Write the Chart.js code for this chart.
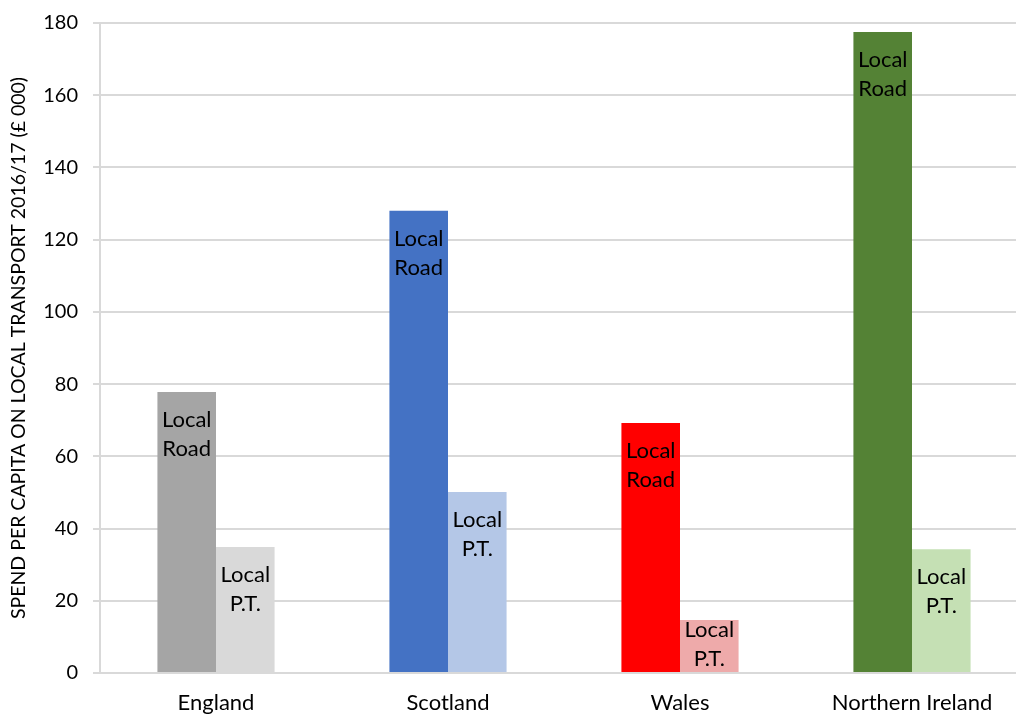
<!DOCTYPE html>
<html>
<head>
<meta charset="utf-8">
<script src="https://cdn.jsdelivr.net/npm/chart.js@4/dist/chart.umd.min.js"></script>
<style>
  html, body { margin: 0; padding: 0; background: #fff; overflow: hidden; }
  #wrap { position: relative; width: 1030px; height: 716px; }
</style>
</head>
<body>
<div id="wrap"><canvas id="c"></canvas></div>
<script>
// Per-capita spend on local transport, 2016/17 (£ 000)
const regions = ['England', 'Scotland', 'Wales', 'Northern Ireland'];
const localRoad = [77.8, 128.0, 69.2, 177.5];
const localPT = [34.9, 50.1, 14.7, 34.3];
const roadColors = ['#a5a5a5', '#4472c4', '#ff0000', '#548235'];
const ptColors = ['#d9d9d9', '#b4c7e7', '#eeaaaa', '#c5e0b4'];
const roadLabel = ['Local', 'Road'];
const ptLabel = ['Local', 'P.T.'];
const yTitle = 'SPEND PER CAPITA ON LOCAL TRANSPORT 2016/17 (£ 000)';

const FONT = 'Lato, "Open Sans", sans-serif';

// Two-line caption written inside the top of each bar; on short bars
// the caption is pushed up so it still sits within the bar.
const barCaptions = {
  id: 'barCaptions',
  afterDatasetsDraw(chart) {
    const ctx = chart.ctx;
    const lineGap = 29;
    ctx.save();
    ctx.font = '22px ' + FONT;
    ctx.fillStyle = '#000';
    ctx.textAlign = 'center';
    ctx.textBaseline = 'middle';
    chart.data.datasets.forEach((ds, di) => {
      const meta = chart.getDatasetMeta(di);
      meta.data.forEach(bar => {
        const n = ds.caption.length;
        const first = Math.min(bar.y + 28, bar.base - 13 - (n - 1) * lineGap);
        ds.caption.forEach((line, li) => {
          ctx.fillText(line, bar.x, first + li * lineGap);
        });
      });
    });
    ctx.restore();
  }
};

new Chart(document.getElementById('c'), {
  type: 'bar',
  data: {
    labels: regions,
    datasets: [
      { label: 'Local Road', data: localRoad, backgroundColor: roadColors, caption: roadLabel },
      { label: 'Local P.T.', data: localPT, backgroundColor: ptColors, caption: ptLabel }
    ]
  },
  options: {
    responsive: true,
    maintainAspectRatio: false,
    animation: false,
    layout: { padding: { left: 0, right: 2, top: 23, bottom: 0 } },
    datasets: { bar: { categoryPercentage: 0.505, barPercentage: 1.0 } },
    plugins: { legend: { display: false }, tooltip: { enabled: false } },
    scales: {
      x: {
        grid: { display: false, drawTicks: false },
        border: { display: true, color: '#d9d9d9', width: 2 },
        ticks: { color: '#000', font: { family: FONT, size: 22 }, padding: 17 },
        afterFit(scale) { scale.height = 43; scale.paddingLeft = 0; scale.paddingRight = 0; }
      },
      y: {
        min: 0,
        max: 180,
        ticks: { stepSize: 20, color: '#000', font: { family: FONT, size: 20 }, padding: 15 },
        grid: { color: '#d9d9d9', lineWidth: 2, tickLength: 7 },
        border: { display: true, color: '#d9d9d9', width: 2 },
        title: {
          display: true,
          text: yTitle,
          color: '#000',
          font: { family: FONT, size: 19.5 },
          padding: { top: 7, bottom: 0 }
        },
        afterFit(scale) { scale.width = 100; scale.paddingTop = 0; scale.paddingBottom = 0; }
      }
    }
  },
  plugins: [barCaptions]
});
</script>
</body>
</html>
